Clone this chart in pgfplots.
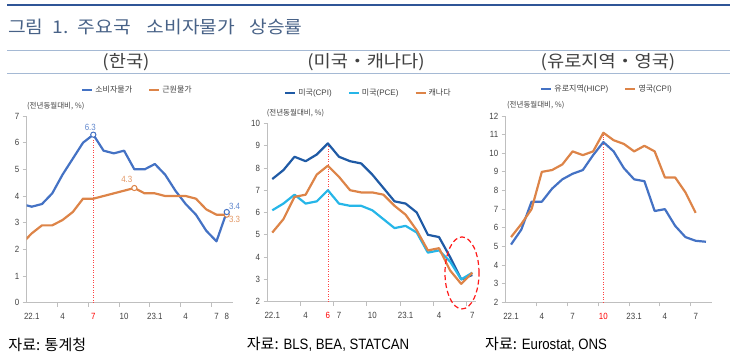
\documentclass[border=0pt]{standalone}
\usepackage{pgfplots}
\pgfplotsset{compat=1.18}
\usepackage{fontspec}
\setmainfont[FakeStretch=0.88]{Liberation Sans}
\newfontfamily\kr{Noto Sans CJK KR}
\newfontfamily\krw[FakeStretch=1.1]{Noto Sans CJK KR}
\definecolor{kblue}{RGB}{68,114,196}
\definecolor{korange}{RGB}{221,132,72}
\definecolor{udark}{RGB}{31,90,165}
\definecolor{ulight}{RGB}{38,182,232}
\definecolor{titlec}{RGB}{72,98,135}
\definecolor{topline}{RGB}{47,85,151}
\definecolor{sepline}{RGB}{165,185,212}
\definecolor{axisgray}{RGB}{191,191,191}
\definecolor{txt}{RGB}{64,64,64}
\pgfplotsset{
 base/.style={
  scale only axis,
  axis x line*=bottom, axis y line*=left,
  axis line style={-, draw=axisgray, line width=0.8pt},
  tick align=outside,
  major tick length=4pt,
  tick style={draw=axisgray, line width=0.8pt},
  tick label style={font=\fontsize{9}{10}\selectfont, text=txt},
  /pgf/number format/assume math mode=true,
  x tick label style={yshift=-7pt},
  xtick={2.5,5.5,8.5,11.5,14.5,17.5},
  xticklabels={},
  extra x tick style={major tick length=0pt},
  ytick distance=1,
  clip mode=individual,
  legend style={draw=none, fill=none, legend columns=-1, font=\kr\fontsize{8}{9}\selectfont, text=txt, /tikz/every even column/.append style={column sep=14pt}},
  legend image code/.code={\draw[#1, line width=2.2pt] (0pt,0pt) -- (10pt,0pt);},
 },
 dl/.style={line width=2.2pt, line join=round},
 mk/.style={forget plot, only marks, mark=*, mark size=2.6pt, mark options={fill=white, draw=#1, line width=1pt}},
 red dot/.style={forget plot, red!75, dotted, line width=0.5pt},
}
\begin{document}
\begin{tikzpicture}[x=1pt,y=1pt]
\useasboundingbox (0,0) rectangle (730,-363);
% header
\draw[topline, line width=2.6pt] (7,-5) -- (730,-5);
\node[anchor=west, inner sep=0pt, text=titlec, font=\krw\fontsize{17.5}{20}\selectfont] at (8,-26.5) {그림\hspace{9pt}1.\hspace{9pt}주요국\hspace{16pt}소비자물가\hspace{14pt}상승률};
\draw[sepline, line width=0.8pt] (7,-50.5) -- (730,-50.5);
\node[text=txt, font=\krw\fontsize{17}{20}\selectfont, inner sep=0pt] at (126,-62) {(한국)};
\node[text=txt, font=\krw\fontsize{17}{20}\selectfont, inner sep=0pt] at (366,-62) {(미국・캐나다)};
\node[text=txt, font=\krw\fontsize{17}{20}\selectfont, inner sep=0pt] at (608,-62) {(유로지역・영국)};
\draw[sepline, line width=0.8pt] (7,-73) -- (730,-73);

% ---------- Panel 1: Korea ----------
\begin{axis}[base, at={(26.7pt,-302.7pt)}, anchor=south west,
  width=206.6pt, height=186.7pt,
  xmin=-0.49, xmax=19.64, ymin=0, ymax=7,
  extra x ticks={0,3,6,9,12,15,18,19},
  extra x tick labels={22.1,4,\textcolor{red}{7},10,23.1,4,7,8},
  legend style={at={(0.536,1.139)}, anchor=center}]
\addplot[red dot] coordinates {(6,0) (6,6.3)};
\addplot[dl, kblue] coordinates {(-1,3.7) (0,3.6) (1,3.7) (2,4.1) (3,4.8) (4,5.4) (5,6.0) (6,6.3) (7,5.7) (8,5.6) (9,5.7) (10,5.0) (11,5.0) (12,5.2) (13,4.8) (14,4.2) (15,3.7) (16,3.3) (17,2.7) (18,2.3) (19,3.4)};
\addlegendentry{소비자물가}
\addplot[dl, korange] coordinates {(-1,2.2) (0,2.6) (1,2.9) (2,2.9) (3,3.1) (4,3.4) (5,3.9) (6,3.9) (7,4.0) (8,4.1) (9,4.2) (10,4.3) (11,4.1) (12,4.1) (13,4.0) (14,4.0) (15,4.0) (16,3.9) (17,3.5) (18,3.3) (19,3.3)};
\addlegendentry{근원물가}
\addplot[mk=korange] coordinates {(10,4.3) (19,3.3)};
\addplot[mk=kblue] coordinates {(6,6.3) (19,3.4)};
\coordinate (k63) at (axis cs:6,6.3);
\coordinate (k43) at (axis cs:10,4.3);
\coordinate (k34) at (axis cs:19,3.4);
\coordinate (k33) at (axis cs:19,3.3);
\end{axis}
\begin{scope}[font=\fontsize{9}{10}\selectfont]
\node[text=kblue!85] at ([xshift=-3pt,yshift=7.6pt]k63) {6.3};
\node[text=korange!85] at ([xshift=-7.6pt,yshift=8.7pt]k43) {4.3};
\node[text=kblue!85] at ([xshift=7.8pt,yshift=6pt]k34) {3.4};
\node[text=korange!85] at ([xshift=7.8pt,yshift=-5pt]k33) {3.3};
\end{scope}

% ---------- Panel 2: US / Canada ----------
\begin{axis}[base, at={(267.5pt,-301.7pt)}, anchor=south west,
  width=208.5pt, height=178.4pt,
  xmin=-0.43, xmax=18.33, ymin=2, ymax=10,
  extra x ticks={0,3,5,6,9,12,15,18},
  extra x tick labels={22.1,4,\textcolor{red}{6},7,10,23.1,4,7},
  legend style={at={(0.484,1.172)}, anchor=center}]
\addplot[red dot] coordinates {(5,2) (5,9.1)};
\addplot[dl, udark] coordinates {(0,7.5) (1,7.9) (2,8.5) (3,8.3) (4,8.6) (5,9.1) (6,8.5) (7,8.3) (8,8.2) (9,7.7) (10,7.1) (11,6.5) (12,6.4) (13,6.0) (14,5.0) (15,4.9) (16,4.0) (17,3.0) (18,3.2)};
\addlegendentry{미국{\fontspec{Liberation Sans}(CPI)}}
\addplot[dl, ulight] coordinates {(0,6.1) (1,6.4) (2,6.8) (3,6.4) (4,6.5) (5,7.0) (6,6.4) (7,6.3) (8,6.3) (9,6.1) (10,5.7) (11,5.3) (12,5.4) (13,5.1) (14,4.2) (15,4.3) (16,3.8) (17,3.0) (18,3.3)};
\addlegendentry{미국{\fontspec{Liberation Sans}(PCE)}}
\addplot[dl, korange] coordinates {(0,5.1) (1,5.7) (2,6.7) (3,6.8) (4,7.7) (5,8.1) (6,7.6) (7,7.0) (8,6.9) (9,6.9) (10,6.8) (11,6.3) (12,5.9) (13,5.2) (14,4.3) (15,4.4) (16,3.4) (17,2.8) (18,3.3)};
\addlegendentry{캐나다}
\coordinate (ell) at (axis cs:17.07,3.29);
\end{axis}
\draw[red!90, line width=1.2pt, dash pattern=on 5pt off 3pt] (ell) ellipse [x radius=17, y radius=36];

% ---------- Panel 3: Euro / UK ----------
\begin{axis}[base, at={(505.7pt,-302.3pt)}, anchor=south west,
  width=206pt, height=186.3pt,
  xmin=-0.52, xmax=19.56, ymin=2, ymax=12,
  extra x ticks={0,3,6,9,12,15,18},
  extra x tick labels={22.1,4,7,\textcolor{red}{10},23.1,4,7},
  legend style={at={(0.492,1.145)}, anchor=center}]
\addplot[red dot] coordinates {(9,2) (9,11.0)};
\addplot[dl, kblue] coordinates {(0,5.1) (1,5.9) (2,7.4) (3,7.4) (4,8.1) (5,8.6) (6,8.9) (7,9.1) (8,9.9) (9,10.6) (10,10.1) (11,9.2) (12,8.6) (13,8.5) (14,6.9) (15,7.0) (16,6.1) (17,5.5) (18,5.3) (19,5.25)};
\addlegendentry{유로지역{\fontspec{Liberation Sans}(HICP)}}
\addplot[dl, korange] coordinates {(0,5.5) (1,6.2) (2,7.0) (3,9.0) (4,9.1) (5,9.4) (6,10.1) (7,9.9) (8,10.1) (9,11.1) (10,10.7) (11,10.5) (12,10.1) (13,10.4) (14,10.1) (15,8.7) (16,8.7) (17,7.9) (18,6.8)};
\addlegendentry{영국{\fontspec{Liberation Sans}(CPI)}}
\end{axis}

% y-axis unit labels
\begin{scope}[font=\kr\fontsize{7.5}{9}\selectfont, text=txt, inner sep=0pt, anchor=west]
\node[anchor=west] at (27,-106) {(전년동월대비, \%)};
\node[anchor=west] at (266.7,-112.7) {(전년동월대비, \%)};
\node[anchor=west] at (507,-105) {(전년동월대비, \%)};
\end{scope}

% sources
\begin{scope}[font=\fontsize{15}{18}\selectfont, text=black, inner sep=0pt]
\node[anchor=west] at (8.3,-344.5) {\kr 자료: 통계청};
\node[anchor=west] at (246.7,-344.5) {{\kr 자료:} BLS, BEA, STATCAN};
\node[anchor=west] at (485,-344.5) {{\kr 자료:} Eurostat, ONS};
\end{scope}
\end{tikzpicture}
\end{document}
